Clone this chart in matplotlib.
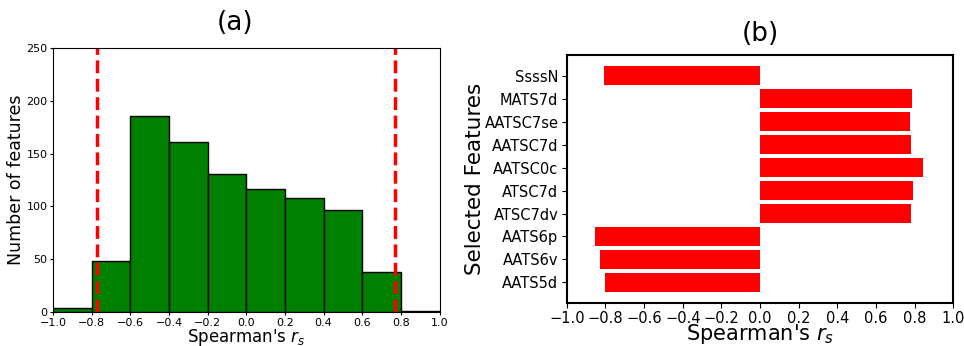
import numpy as np
import matplotlib
matplotlib.use('Agg')
import matplotlib.pyplot as plt

# histogram of correlations (bin edges + counts)
bin_edges = np.linspace(-1.0, 1.0, 11)
counts = [4, 48, 186, 161, 131, 117, 108, 97, 38, 1]
threshold = 0.77

# selected features and their Spearman r_s
features = ['AATS5d', 'AATS6v', 'AATS6p', 'ATSC7dv', 'ATSC7d',
            'AATSC0c', 'AATSC7d', 'AATSC7se', 'MATS7d', 'SsssN']
rs_values = [-0.80, -0.83, -0.855, 0.78, 0.79, 0.845, 0.78, 0.777, 0.786, -0.81]

fig = plt.figure(figsize=(9.64, 3.46), dpi=100)

# (a) histogram
ax1 = fig.add_axes([0.055, 0.098, 0.401, 0.763])
centers = (bin_edges[:-1] + bin_edges[1:]) / 2
ax1.bar(centers, counts, width=0.2, color='green', edgecolor='black', linewidth=1)
ax1.axvline(-threshold, color='red', linestyle='--', linewidth=2.5)
ax1.axvline(threshold, color='red', linestyle='--', linewidth=2.5)
ax1.set_xlim(-1, 1)
ax1.set_ylim(0, 250)
ax1.set_xticks(np.arange(-1.0, 1.01, 0.2))
ax1.tick_params(labelsize=8, length=2.5, pad=1.5)
ax1.set_xlabel("Spearman's $r_s$", fontsize=12)
ax1.xaxis.set_label_coords(0.5, -0.055)
ax1.set_ylabel('Number of features', fontsize=12.5)
ax1.yaxis.set_label_coords(-0.072, 0.5)
ax1.set_title('(a)', fontsize=19, pad=13, x=0.47)

# (b) selected features
ax2 = fig.add_axes([0.588, 0.124, 0.401, 0.717])
ax2.barh(features, rs_values, color='red', height=0.82)
ax2.set_xlim(-1, 1)
ax2.set_xticks(np.arange(-1.0, 1.01, 0.2))
ax2.tick_params(labelsize=10.5, pad=2.5)
for s in ax2.spines.values():
    s.set_linewidth(1.5)
ax2.set_xlabel("Spearman's $r_s$", fontsize=15)
ax2.xaxis.set_label_coords(0.5, -0.078)
ax2.set_ylabel('Selected Features', fontsize=15.5)
ax2.yaxis.set_label_coords(-0.212, 0.5)
ax2.set_title('(b)', fontsize=19, pad=10)

fig.savefig('out.png', dpi=100)
